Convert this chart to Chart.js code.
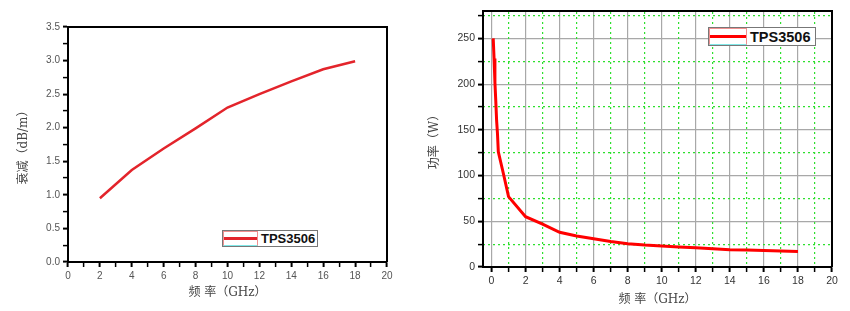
<!DOCTYPE html>
<html>
<head>
<meta charset="utf-8">
<script src="https://cdn.jsdelivr.net/npm/chart.js@4/dist/chart.umd.min.js"></script>
<style>
    html, body { margin: 0; padding: 0; background: #fff; }
    body { width: 850px; height: 311px; position: relative; overflow: hidden; }
    .panel { position: absolute; top: 0; width: 425px; height: 311px; }
    .legend {
        position: absolute; box-sizing: border-box; background: #fff;
        border: 1px solid #777; display: flex; align-items: center;
    }
    .swatch {
        position: relative; box-sizing: border-box; height: 100%;
        border: 1px solid #f09090; border-bottom: 1px solid #80e8e8;
    }
    .swatch::after {
        content: ''; position: absolute; left: 0; right: 0; top: 50%;
        height: 3px; margin-top: -2px; background: var(--line);
    }
    .legend-text {
        font-family: "Liberation Sans", Arial, sans-serif; font-weight: bold;
        color: #111; padding-left: 3px; white-space: nowrap;
    }
</style>
</head>
<body>
<div class="panel" style="left:0"><canvas id="canvas-loss" width="425" height="311"></canvas></div>
<div class="panel" style="left:425px"><canvas id="canvas-power" width="425" height="311"></canvas></div>

<div class="legend" id="legend-loss" style="left:222px;top:230px;width:96px;height:17px">
    <span class="swatch" style="width:35px;--line:#e3242b"></span><span class="legend-text" style="font-size:13px"></span>
</div>
<div class="legend" id="legend-power" style="left:708px;top:27px;width:108px;height:19px">
    <span class="swatch" style="width:38px;--line:#ff0000"></span><span class="legend-text" style="font-size:14.5px"></span>
</div>

<script>
const seriesName = 'TPS3506';

// left: attenuation vs frequency
const lossFreq = [2, 4, 6, 8, 10, 12, 14, 16, 18];
const lossValues = [0.95, 1.37, 1.69, 1.99, 2.30, 2.50, 2.69, 2.87, 2.99];
const lossXTicks = [0, 1, 2, 3, 4, 5, 6, 7, 8, 9, 10, 11, 12, 13, 14, 15, 16, 17, 18, 19, 20];
const lossXLabels = [0, 2, 4, 6, 8, 10, 12, 14, 16, 18, 20];
const lossYTicks = [0, 0.25, 0.5, 0.75, 1, 1.25, 1.5, 1.75, 2, 2.25, 2.5, 2.75, 3, 3.25, 3.5];
const lossYLabels = [0, 0.5, 1, 1.5, 2, 2.5, 3, 3.5];

// right: power vs frequency
const powerFreq = [0.1, 0.15, 0.2, 0.25, 0.3, 0.35, 0.4, 0.7, 1, 2, 3, 4, 5, 6, 7, 8, 9, 10, 11, 12, 13, 14, 15, 16, 17, 18];
const powerValues = [250, 228, 202, 182, 160, 146, 126, 102, 77, 55, 47, 38, 34, 31, 28, 25.5, 24, 23, 22, 21, 20, 19, 18.5, 18, 17.5, 17];
const powerXTicks = [0, 1, 2, 3, 4, 5, 6, 7, 8, 9, 10, 11, 12, 13, 14, 15, 16, 17, 18, 19, 20];
const powerXLabels = [0, 2, 4, 6, 8, 10, 12, 14, 16, 18, 20];
const powerYTicks = [0, 25, 50, 75, 100, 125, 150, 175, 200, 225, 250, 275];
const powerYLabels = [0, 50, 100, 150, 200, 250];

const xTitle = '频 率（GHz）';
const lossTitle = '衰减（dB/m）';
const powerTitle = '功率（W）';

const titleFamily = '"DejaVu Serif", "Noto Sans CJK SC", serif';
const tickFamily = '"Liberation Sans", Arial, sans-serif';

function fixTicks(values) {
    return (scale) => {
        scale.ticks = values.map(v => ({ value: v }));
    };
}

function isMajor(list, v) {
    return list.some(m => Math.abs(m - v) < 1e-9);
}

function toPoints(xs, ys) {
    return xs.map((x, i) => ({ x: x, y: ys[i] }));
}

// frame edge with no labels (top / right)
function frameAxis(position, min, max, tickValues, gridColor) {
    const horizontal = position === 'top';
    return {
        type: 'linear',
        position: position,
        min: min,
        max: max,
        afterBuildTicks: fixTicks(tickValues),
        afterFit: (s) => { if (horizontal) { s.height = 0; } else { s.width = 0; } },
        ticks: { display: false },
        grid: {
            display: !!gridColor,
            drawTicks: false,
            color: gridColor || 'transparent',
            lineWidth: 1.2
        },
        border: { display: true, color: '#000', width: 2, dash: [2, 3] }
    };
}

function makeConfig(o) {
    return {
        type: 'line',
        data: {
            datasets: [
                {
                    label: seriesName,
                    data: toPoints(o.xs, o.ys),
                    borderColor: o.color,
                    backgroundColor: o.color,
                    borderWidth: o.lineWidth,
                    pointRadius: 0,
                    tension: 0,
                    fill: false
                }
            ]
        },
        options: {
            responsive: false,
            animation: false,
            layout: { padding: { left: 0, top: o.top, right: o.right, bottom: 0 } },
            plugins: {
                legend: { display: false },
                tooltip: { enabled: false }
            },
            scales: {
                x: {
                    type: 'linear',
                    position: 'bottom',
                    min: o.xMin,
                    max: 20,
                    afterBuildTicks: fixTicks(o.xTicks),
                    afterFit: (s) => { s.height = o.xHeight; },
                    grid: {
                        drawOnChartArea: !!o.majorGrid,
                        color: (c) => (o.majorGrid && c.tick && isMajor(o.xLabels, c.tick.value)) ? o.majorGrid : 'transparent',
                        lineWidth: 1.2,
                        tickLength: 5,
                        tickColor: '#000',
                        tickWidth: (c) => (c.tick && isMajor(o.xLabels, c.tick.value)) ? 2 : 1.5
                    },
                    border: { color: '#000', width: 2 },
                    ticks: {
                        autoSkip: false,
                        maxRotation: 0,
                        padding: 3,
                        color: o.tickColor,
                        font: { family: tickFamily, size: o.tickSize },
                        callback: (v) => isMajor(o.xLabels, v) ? String(v) : ''
                    },
                    title: {
                        display: true,
                        text: xTitle,
                        color: '#444',
                        font: { family: titleFamily, size: 12 },
                        padding: { top: 0, bottom: o.xTitlePad }
                    }
                },
                y: {
                    type: 'linear',
                    position: 'left',
                    min: 0,
                    max: o.yMax,
                    afterBuildTicks: fixTicks(o.yTicks),
                    afterFit: (s) => { s.width = o.yWidth; },
                    grid: {
                        drawOnChartArea: !!o.majorGrid,
                        color: (c) => (o.majorGrid && c.tick && isMajor(o.yLabels, c.tick.value)) ? o.majorGrid : 'transparent',
                        lineWidth: 1.2,
                        tickLength: 5,
                        tickColor: '#000',
                        tickWidth: (c) => (c.tick && isMajor(o.yLabels, c.tick.value)) ? 2 : 1.5
                    },
                    border: { color: '#000', width: 2 },
                    ticks: {
                        autoSkip: false,
                        padding: 3,
                        color: o.tickColor,
                        font: { family: tickFamily, size: o.tickSize },
                        callback: (v) => isMajor(o.yLabels, v) ? o.yFormat(v) : ''
                    },
                    title: {
                        display: true,
                        text: o.yTitle,
                        color: '#444',
                        font: { family: titleFamily, size: 12 },
                        padding: { top: o.yTitlePad, bottom: 0 }
                    }
                },
                xTop: frameAxis('top', o.xMin, 20, o.xTicks,
                    o.minorGrid ? (c) => (c.tick && !isMajor(o.xLabels, c.tick.value)) ? o.minorGrid : 'transparent' : null),
                yRight: frameAxis('right', 0, o.yMax, o.yTicks,
                    o.minorGrid ? (c) => (c.tick && !isMajor(o.yLabels, c.tick.value)) ? o.minorGrid : 'transparent' : null)
            }
        }
    };
}

const lossChart = new Chart(document.getElementById('canvas-loss').getContext('2d'), makeConfig({
    xs: lossFreq,
    ys: lossValues,
    color: '#e3242b',
    lineWidth: 2.5,
    top: 27,
    right: 38,
    xMin: 0,
    yMax: 3.5,
    xTicks: lossXTicks,
    xLabels: lossXLabels,
    yTicks: lossYTicks,
    yLabels: lossYLabels,
    yFormat: (v) => v.toFixed(1),
    xHeight: 49,
    yWidth: 68,
    tickColor: '#555',
    tickSize: 10,
    xTitlePad: 11,
    yTitlePad: 17,
    yTitle: lossTitle,
    majorGrid: null,
    minorGrid: null
}));

const powerChart = new Chart(document.getElementById('canvas-power').getContext('2d'), makeConfig({
    xs: powerFreq,
    ys: powerValues,
    color: '#ff0000',
    lineWidth: 3,
    top: 11,
    right: 18,
    xMin: -0.5,
    yMax: 280,
    xTicks: powerXTicks,
    xLabels: powerXLabels,
    yTicks: powerYTicks,
    yLabels: powerYLabels,
    yFormat: (v) => String(v),
    xHeight: 44,
    yWidth: 58,
    tickColor: '#333',
    tickSize: 10.5,
    xTitlePad: 4,
    yTitlePad: 3,
    yTitle: powerTitle,
    majorGrid: '#a8a8a8',
    minorGrid: '#2ee02e'
}));

document.querySelectorAll('.legend-text').forEach(el => { el.textContent = seriesName; });
</script>
</body>
</html>
